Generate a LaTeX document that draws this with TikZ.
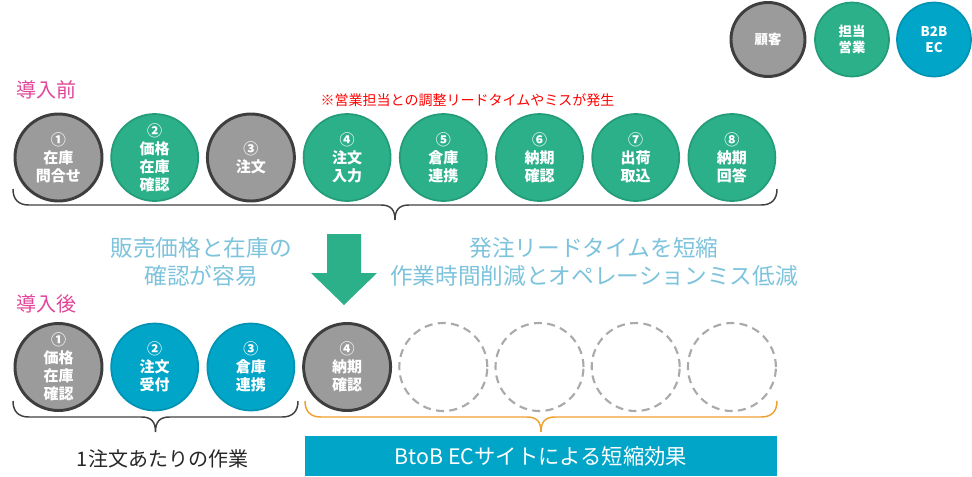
\documentclass[tikz,border=0pt]{standalone}
\usepackage{fontspec}
\setmainfont{Noto Sans CJK JP}
\usetikzlibrary{positioning}
\definecolor{custgray}{RGB}{155,155,155}
\definecolor{custedge}{RGB}{62,62,62}
\definecolor{salesgreen}{RGB}{43,176,138}
\definecolor{salesedge}{RGB}{36,156,121}
\definecolor{ecblue}{RGB}{0,165,200}
\definecolor{ecedge}{RGB}{0,147,180}
\definecolor{titlepink}{RGB}{226,68,152}
\definecolor{notered}{RGB}{255,0,0}
\definecolor{effectblue}{RGB}{125,195,220}
\definecolor{braceorange}{RGB}{240,160,48}
\definecolor{dashgray}{RGB}{170,170,170}
\def\px{0.75pt}
% 波括弧：#1=左端x, #2=右端x, #3=端の上y, #4=線の色
\newcommand{\flowbrace}[4]{%
  \draw[#4,line width=1.1pt] (#1,#3) .. controls (#1,{#3+10}) and ({#1+5},{#3+16}) .. ({#1+16},{#3+16})
    -- ({(#1+#2)/2-14},{#3+16}) .. controls ({(#1+#2)/2-4},{#3+16}) and ({(#1+#2)/2},{#3+21}) .. ({(#1+#2)/2},{#3+31})
    .. controls ({(#1+#2)/2},{#3+21}) and ({(#1+#2)/2+4},{#3+16}) .. ({(#1+#2)/2+14},{#3+16})
    -- ({#2-16},{#3+16}) .. controls ({#2-5},{#3+16}) and (#2,{#3+10}) .. (#2,#3);}

\begin{document}
\begin{tikzpicture}[x=0.75pt,y=-0.75pt,
  stepcirc/.style={circle,minimum size=87*\px,inner sep=0pt,text=white,align=center,
    font=\bfseries\fontsize{11.25pt}{13.5pt}\selectfont},
  cust/.style={stepcirc,fill=custgray,draw=custedge,line width=2.2pt},
  sales/.style={stepcirc,fill=salesgreen,draw=salesedge,line width=1.3pt},
  ec/.style={stepcirc,fill=ecblue,draw=ecedge,line width=1.3pt},
  blank/.style={circle,minimum size=88*\px,draw=dashgray,line width=1.6pt,dash pattern=on 6pt off 4pt},
  legend/.style={minimum size=74*\px,font=\bfseries\fontsize{10pt}{12pt}\selectfont},
  phase/.style={anchor=west,text=titlepink,font=\fontsize{15pt}{16pt}\selectfont},
  effect/.style={text=effectblue,align=center,font=\fontsize{17pt}{21pt}\selectfont}]
  \useasboundingbox (0,0) rectangle (972,476);
  \def\rowA{157.5} % 導入前の行の中心
  \def\rowB{367}   % 導入後の行の中心
  \def\gap{96.2}   % 丸の間隔
  % 凡例
  \node[cust,legend,line width=2.2pt] (lgcust) at (768,39.5) {顧客};
  \node[sales,legend] (lgsales) at (852,39.5) {担当\\営業};
  \node[ec,legend] (lgec) at (934,39.5) {B2B\\EC};
  % 導入前
  \node[phase] (before) at (12,90) {導入前};
  \node[text=notered,font=\fontsize{10.5pt}{12pt}\selectfont] (note) at (467.5,100) {※営業担当との調整リードタイムやミスが発生};
  \node[cust]  (pre1) at (58.5,\rowA) {①\\在庫\\問合せ};
  \node[sales] (pre2) at ({58.5+\gap},\rowA) {②\\価格\\在庫\\確認};
  \node[cust]  (pre3) at ({58.5+2*\gap},\rowA) {③\\注文};
  \node[sales] (pre4) at ({58.5+3*\gap},\rowA) {④\\注文\\入力};
  \node[sales] (pre5) at ({58.5+4*\gap},\rowA) {⑤\\倉庫\\連携};
  \node[sales] (pre6) at ({58.5+5*\gap},\rowA) {⑥\\納期\\確認};
  \node[sales] (pre7) at ({58.5+6*\gap},\rowA) {⑦\\出荷\\取込};
  \node[sales] (pre8) at ({58.5+7*\gap},\rowA) {⑧\\納期\\回答};
  \flowbrace{13}{777}{189}{black!75}
  % 効果と矢印
  \node[effect] (easy) at (201,262) {販売価格と在庫の\\確認が容易};
  \node[effect] (shorten) at (594,262) {発注リードタイムを短縮\\作業時間削減とオペレーションミス低減};
  \fill[salesgreen] (327,234) -- (361,234) -- (361,273) -- (377,273) -- (344,305) -- (311,273) -- (327,273) -- cycle; % 下向き矢印
  % 導入後
  \node[phase] (after) at (12,304) {導入後};
  \node[cust] (post1) at (58.5,\rowB) {①\\価格\\在庫\\確認};
  \node[ec]   (post2) at ({58.5+\gap},\rowB) {②\\注文\\受付};
  \node[ec]   (post3) at ({58.5+2*\gap},\rowB) {③\\倉庫\\連携};
  \node[cust] (post4) at ({58.5+3*\gap},\rowB) {④\\納期\\確認};
  \foreach \i in {5,...,8}
    \node[blank] (post\i) at ({58.5+(\i-1)*\gap},\rowB) {};
  \flowbrace{13}{298}{401}{black!75}
  \flowbrace{305}{777}{401}{braceorange}
  \node[font=\fontsize{15pt}{18pt}\selectfont,text=black!85] (perorder) at (162.5,459) {1注文あたりの作業};
  \node[fill=ecblue,minimum width=472*\px,minimum height=40*\px,inner sep=0pt,text=white,
    font=\fontsize{16pt}{18pt}\selectfont] (effectbox) at (541,456) {BtoB ECサイトによる短縮効果};
\end{tikzpicture}
\end{document}
